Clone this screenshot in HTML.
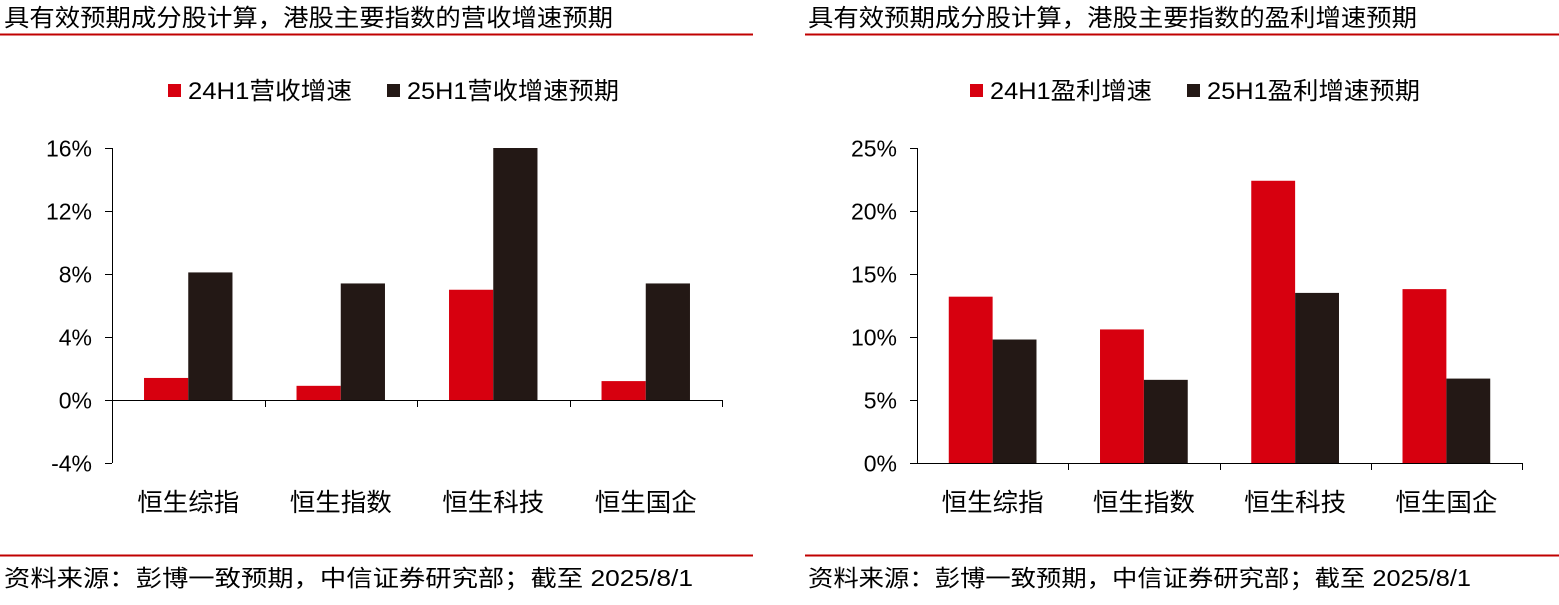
<!DOCTYPE html>
<html><head><meta charset="utf-8">
<style>
html,body{margin:0;padding:0;background:#fff;}
body{width:1559px;height:600px;overflow:hidden;font-family:"Liberation Sans","Noto Sans CJK SC",sans-serif;}
svg text{font-family:"Liberation Sans","Noto Sans CJK SC",sans-serif;}
</style></head>
<body>
<svg id="c" width="1559" height="600" xmlns="http://www.w3.org/2000/svg">
<text x="4" y="26" font-size="24" textLength="609" lengthAdjust="spacingAndGlyphs" fill="#000">具有效预期成分股计算，港股主要指数的营收增速预期</text>
<line x1="0" y1="34.5" x2="753" y2="34.5" stroke="#c00000" stroke-width="2"/>
<text x="808" y="26" font-size="24" textLength="609" lengthAdjust="spacingAndGlyphs" fill="#000">具有效预期成分股计算，港股主要指数的盈利增速预期</text>
<line x1="805" y1="34.5" x2="1559" y2="34.5" stroke="#c00000" stroke-width="2"/>
<line x1="0" y1="555.5" x2="753" y2="555.5" stroke="#c00000" stroke-width="2"/>
<line x1="805" y1="555.5" x2="1559" y2="555.5" stroke="#c00000" stroke-width="2"/>
<text x="4" y="586" font-size="23" textLength="689" lengthAdjust="spacingAndGlyphs" fill="#000">资料来源：彭博一致预期，中信证券研究部；截至 2025/8/1</text>
<text x="808" y="586" font-size="23" textLength="663" lengthAdjust="spacingAndGlyphs" fill="#000">资料来源：彭博一致预期，中信证券研究部；截至 2025/8/1</text>

<rect x="168" y="84" width="13" height="13" fill="#d7000f"/>
<text x="188" y="99" font-size="24" textLength="164" lengthAdjust="spacingAndGlyphs">24H1营收增速</text>
<rect x="387" y="84" width="13" height="13" fill="#231815"/>
<text x="407" y="99" font-size="24" textLength="212" lengthAdjust="spacingAndGlyphs">25H1营收增速预期</text>
<rect x="970" y="84" width="13" height="13" fill="#d7000f"/>
<text x="990" y="99" font-size="24" textLength="162" lengthAdjust="spacingAndGlyphs">24H1盈利增速</text>
<rect x="1187" y="84" width="13" height="13" fill="#231815"/>
<text x="1207" y="99" font-size="24" textLength="213" lengthAdjust="spacingAndGlyphs">25H1盈利增速预期</text>
</svg>
<script>
const categories = ["恒生综指","恒生指数","恒生科技","恒生国企"];
const revenue24 = [1.4, 0.9, 7.0, 1.2];
const revenue25 = [8.1, 7.4, 16.0, 7.4];
const profit24 = [13.2, 10.6, 22.4, 13.8];
const profit25 = [9.8, 6.6, 13.5, 6.7];
const leftTicks = [-4, 0, 4, 8, 12, 16];
const rightTicks = [0, 5, 10, 15, 20, 25];

const svg = document.getElementById('c');
const NS = 'http://www.w3.org/2000/svg';
function mk(tag, attrs){const e=document.createElementNS(NS,tag);for(const k in attrs)e.setAttribute(k,attrs[k]);svg.appendChild(e);return e;}

function drawChart(prefix, x0, x1, yTop, yBot, vmin, vmax, ticks, s1, s2){
  const y = v => yBot - (v - vmin) / (vmax - vmin) * (yBot - yTop);
  const catW = (x1 - x0) / categories.length;
  const bw = catW * 0.29;
  const ax = mk('line',{x1:x0+0.5,y1:yTop,x2:x0+0.5,y2:yBot,stroke:'#000','stroke-width':1});
  
  
  ticks.forEach(t=>{
    const ty = Math.round(y(t))+0.5;
    const tl = mk('line',{x1:x0-7,y1:ty,x2:x0,y2:ty,stroke:'#000','stroke-width':1});
    
    
    const tx = mk('text',{x:x0-20,y:ty+8,'font-size':23,'text-anchor':'end'});
    tx.textContent = t + '%';
    
    
  });
  categories.forEach((c,i)=>{
    const cx = x0 + catW*(i+0.5);
    const y0 = y(0);
    [[s1[i],'#d7000f',cx-bw],[s2[i],'#231815',cx]].forEach(([v,col,bx],j)=>{
      const r = mk('rect',{x:bx,y:Math.min(y(v),y0),width:bw,height:Math.abs(y0-y(v)),fill:col});
      
      
    });
    const lb = mk('text',{x:cx-51,y:yBot+48,'font-size':25,textLength:102,lengthAdjust:'spacingAndGlyphs'});
    lb.textContent = c;
    
    
    const bx = Math.round(x0 + catW*(i+1))+0.5;
    const ct = mk('line',{x1:bx,y1:Math.round(y(0)),x2:bx,y2:Math.round(y(0))+7,stroke:'#000','stroke-width':1});
    
    
  });
  const z = Math.round(y(0))+0.5;
  const xa = mk('line',{x1:x0,y1:z,x2:x1,y2:z,stroke:'#000','stroke-width':1});
  
  
}
drawChart('left', 112, 722, 148, 463, -4, 16, leftTicks, revenue24, revenue25);
drawChart('right', 917, 1522, 148, 463, 0, 25, rightTicks, profit24, profit25);
</script>
</body></html>
